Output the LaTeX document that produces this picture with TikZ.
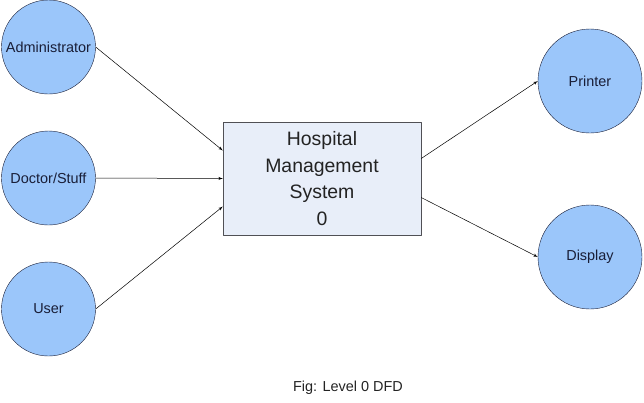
\documentclass[tikz,border=0pt]{standalone}
\usepackage{fontspec}
\setmainfont{Liberation Sans}
\usepackage{tikz}
\usetikzlibrary{arrows, positioning}

\definecolor{entfill}{RGB}{155,198,250}
\definecolor{entline}{RGB}{25,30,55}
\definecolor{procfill}{RGB}{232,238,249}
\definecolor{procline}{RGB}{80,80,85}
\definecolor{labeltext}{RGB}{35,35,35}

\begin{document}
\begin{tikzpicture}[>=latex',line join=bevel,x=1bp,y=-1bp,
    entity/.style={circle, draw=entline, fill=entfill, inner sep=0pt,
      text=entline, font=\fontsize{14.5}{16}\selectfont},
    process/.style={rectangle, draw=procline, fill=procfill, inner sep=0pt,
      minimum width=198bp, minimum height=113bp, align=center,
      text=labeltext, font=\fontsize{19.5}{27}\selectfont},
    flow/.style={->, line width=.5bp, black}]
  \useasboundingbox (0,0) rectangle (644,402);
%%
  % Node: Administrator
  \node [entity, minimum size=94bp] (admin) at (48.5,47) {Administrator};
  % Node: Doctor/Stuff
  \node [entity, minimum size=94bp] (doctor) at (48.5,178) {Doctor/Stuff};
  % Node: User
  \node [entity, minimum size=94bp] (user) at (48.5,309) {User};
  % Node: Hospital Management System
  \node [process] (hms) at (322,178.5) {Hospital\\Management\\System\\0};
  % Node: Printer
  \node [entity, minimum size=104bp] (printer) at (590,81) {Printer};
  % Node: Display
  \node [entity, minimum size=104bp] (display) at (590,257) {Display};
%%
  % Edge: admin -- hms
  \draw [flow] (admin.east) -- ([yshift=28bp]hms.west);
  % Edge: doctor -- hms
  \draw [flow] (doctor.east) -- (hms.west);
  % Edge: user -- hms
  \draw [flow] (user.east) -- ([yshift=-28bp]hms.west);
  % Edge: hms -- printer
  \draw [flow] ([yshift=20bp]hms.east) -- (printer.west);
  % Edge: hms -- display
  \draw [flow] ([yshift=-19bp]hms.east) -- (display.west);
%%
  % Caption
  \node [text=labeltext, font=\fontsize{14.5}{16}\selectfont] (caption) at (348,388) {Fig: Level 0 DFD};
%
\end{tikzpicture}
\end{document}
